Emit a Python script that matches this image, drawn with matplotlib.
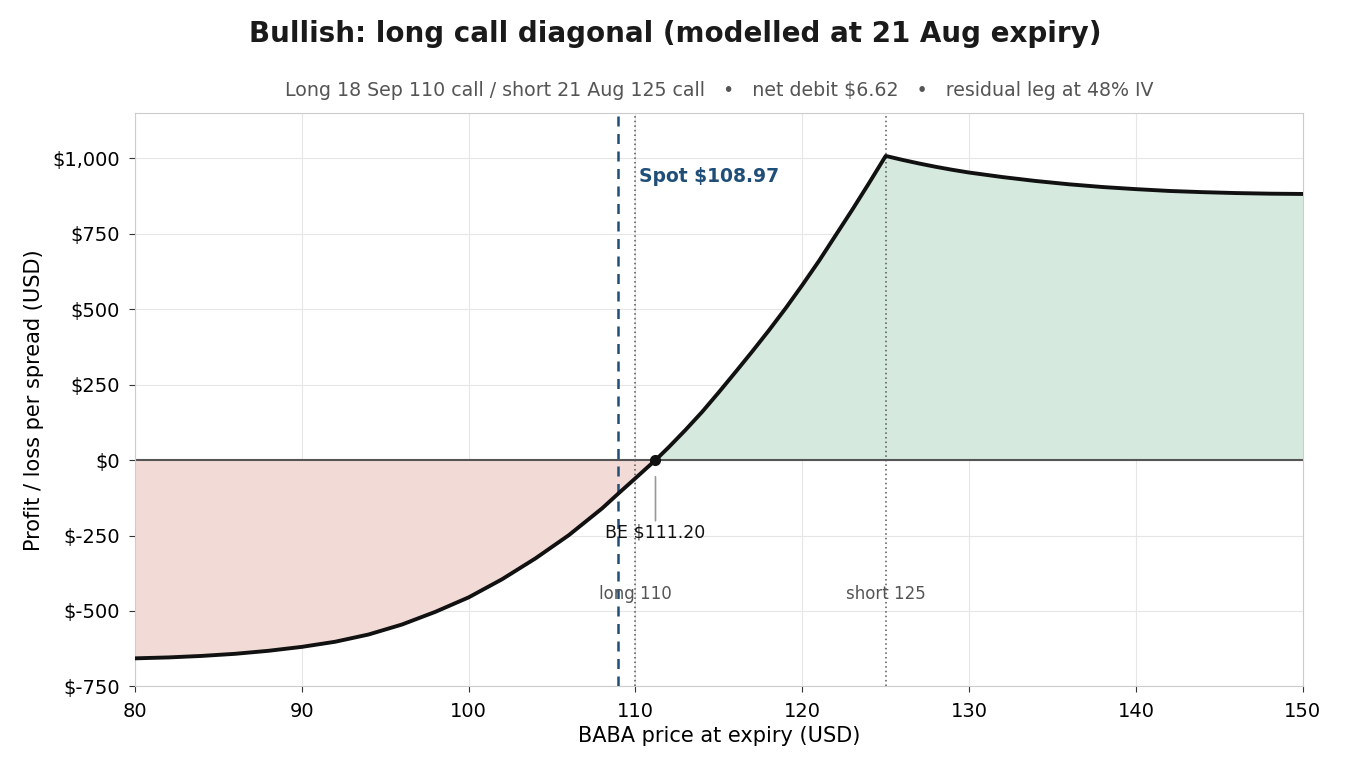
import numpy as np
import matplotlib.pyplot as plt
from matplotlib.ticker import FuncFormatter

# price at expiry (USD) and P/L per spread (USD)
price = [80, 82, 84, 86, 88, 90, 92, 94, 96, 98, 100, 102, 104, 106, 108, 108.97,
         110, 111.2, 112, 113, 114, 115, 116, 117, 118, 119, 120, 121, 122, 123, 124, 125,
         126, 127, 128, 129, 130, 132, 134, 136, 138, 140, 142, 144, 146, 148, 150]
pnl = [-657, -654, -649, -642, -632, -619, -602, -578, -545, -503, -455, -395, -326, -249, -160, -111,
       -60, 0, 43, 100, 160, 225, 292, 360, 430, 503, 580, 660, 745, 830, 918, 1008,
       995, 983, 972, 962, 953, 938, 925, 914, 905, 898, 892, 888, 885, 883, 882]

spot = 108.97
breakeven = 111.2
long_strike = 110
short_strike = 125

x = np.array(price)
y = np.array(pnl)

fig, ax = plt.subplots(figsize=(13.5, 7.8), dpi=100)
fig.subplots_adjust(left=0.1, right=0.965, top=0.855, bottom=0.12)

ax.fill_between(x, y, 0, where=y <= 0, interpolate=True, color="#f2dbd7", lw=0)
ax.fill_between(x, y, 0, where=y >= 0, interpolate=True, color="#d5e9de", lw=0)
ax.axhline(0, color="#555555", lw=1.5, zorder=2)

ax.axvline(long_strike, color="#555555", lw=1.1, ls=(0, (1, 2)), zorder=2)
ax.axvline(short_strike, color="#555555", lw=1.1, ls=(0, (1, 2)), zorder=2)
ax.axvline(spot, color="#1f4e79", lw=1.8, ls=(0, (4, 3)), zorder=3)

ax.plot(x, y, color="#111111", lw=2.8, zorder=4, solid_joinstyle="round")
ax.plot([breakeven], [0], "o", color="#111111", ms=7, zorder=5)

ax.annotate("BE $111.20", xy=(breakeven, 0), xytext=(breakeven, -240),
            ha="center", va="center", fontsize=12.5, color="#111111",
            arrowprops=dict(arrowstyle="-", color="#999999", lw=1.2, shrinkA=0, shrinkB=12))

ax.text(long_strike, -445, "long 110", ha="center", va="center", fontsize=12, color="#555555")
ax.text(short_strike, -445, "short 125", ha="center", va="center", fontsize=12, color="#555555")
ax.text(110.2, 940, "Spot $108.97", ha="left", va="center", fontsize=13.5,
        fontweight="bold", color="#1f4e79")

ax.set_xlim(80, 150)
ax.set_ylim(-750, 1150)
ax.set_yticks([-750, -500, -250, 0, 250, 500, 750, 1000])
ax.yaxis.set_major_formatter(FuncFormatter(lambda v, p: f"${v:,.0f}"))
ax.grid(True, color="#e6e6e6", lw=0.8)
ax.set_axisbelow(True)
for s in ax.spines.values():
    s.set_color("#cccccc")
ax.tick_params(labelsize=14, color="#333333", length=4, pad=7)

ax.set_xlabel("BABA price at expiry (USD)", fontsize=15)
ax.set_ylabel("Profit / loss per spread (USD)", fontsize=15, labelpad=6)
ax.set_title("Long 18 Sep 110 call / short 21 Aug 125 call   \u2022   net debit $6.62   \u2022   residual leg at 48% IV",
             fontsize=13.7, color="#555555", pad=12)
fig.suptitle("Bullish: long call diagonal (modelled at 21 Aug expiry)",
             fontsize=20, fontweight="bold", color="#1a1a1a", y=0.975)

fig.savefig("out.png", dpi=100)
